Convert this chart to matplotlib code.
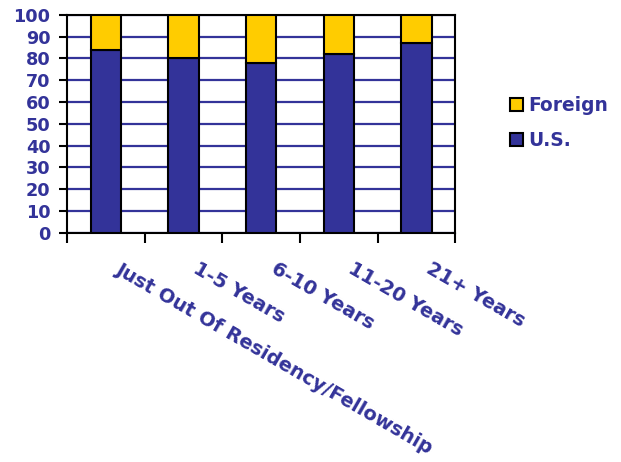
import matplotlib as mpl

mpl.use("Agg")
import matplotlib.pyplot as plt
import matplotlib.transforms as mtransforms
import numpy as np

categories = [
    "Just Out Of Residency/Fellowship",
    "1-5 Years",
    "6-10 Years",
    "11-20 Years",
    "21+ Years",
]
us_vals = [84, 80, 78, 82, 87]
foreign_vals = [16, 20, 22, 18, 13]

blue = "#333399"
yellow = "#FFCC00"

plt.rcParams["font.family"] = "DejaVu Sans"
plt.rcParams["font.weight"] = "bold"

fig = plt.figure(figsize=(6.21, 4.62), dpi=100)
ax = fig.add_axes([0.108, 0.496, 0.625, 0.472])

x = np.arange(len(categories))
ax.bar(x, us_vals, 0.39, color=blue, edgecolor="black", linewidth=1.5, zorder=3)
ax.bar(x, foreign_vals, 0.39, bottom=us_vals, color=yellow, edgecolor="black",
       linewidth=1.5, zorder=3)

ax.set_xlim(-0.5, len(categories) - 0.5)
ax.set_ylim(0, 100)
ax.set_yticks(np.arange(0, 101, 10))
ax.yaxis.grid(True, color=blue, linewidth=1.6, zorder=0)
ax.set_axisbelow(True)

for s in ax.spines.values():
    s.set_linewidth(1.5)
    s.set_color("black")

ax.tick_params(axis="y", length=6, width=1.5, labelsize=12.7, labelcolor=blue, pad=6)

# ticks between categories, labels at the centres
ax.set_xticks(np.arange(-0.5, len(categories), 1.0), minor=True)
ax.tick_params(axis="x", which="minor", length=7, width=1.5)
ax.set_xticks(x)
ax.set_xticklabels(categories, rotation=-30, ha="left", va="top",
                   rotation_mode="anchor", color=blue, fontsize=14)
ax.tick_params(axis="x", which="major", length=0, pad=19)
shift = mtransforms.ScaledTranslation(16 / 100, 0, fig.dpi_scale_trans)
for lbl in ax.get_xticklabels():
    lbl.set_transform(lbl.get_transform() + shift)

handles = [
    plt.Rectangle((0, 0), 1, 1, facecolor=yellow, edgecolor="black", linewidth=1.5),
    plt.Rectangle((0, 0), 1, 1, facecolor=blue, edgecolor="black", linewidth=1.5),
]
fig.legend(handles, ["Foreign", "U.S."], loc="center left",
           bbox_to_anchor=(0.794, 0.734), frameon=False, labelcolor=blue,
           prop={"size": 13.4, "weight": "bold"}, handlelength=0.7,
           handleheight=0.7, handletextpad=0.3, labelspacing=0.85)

fig.savefig("out.png", dpi=100)
